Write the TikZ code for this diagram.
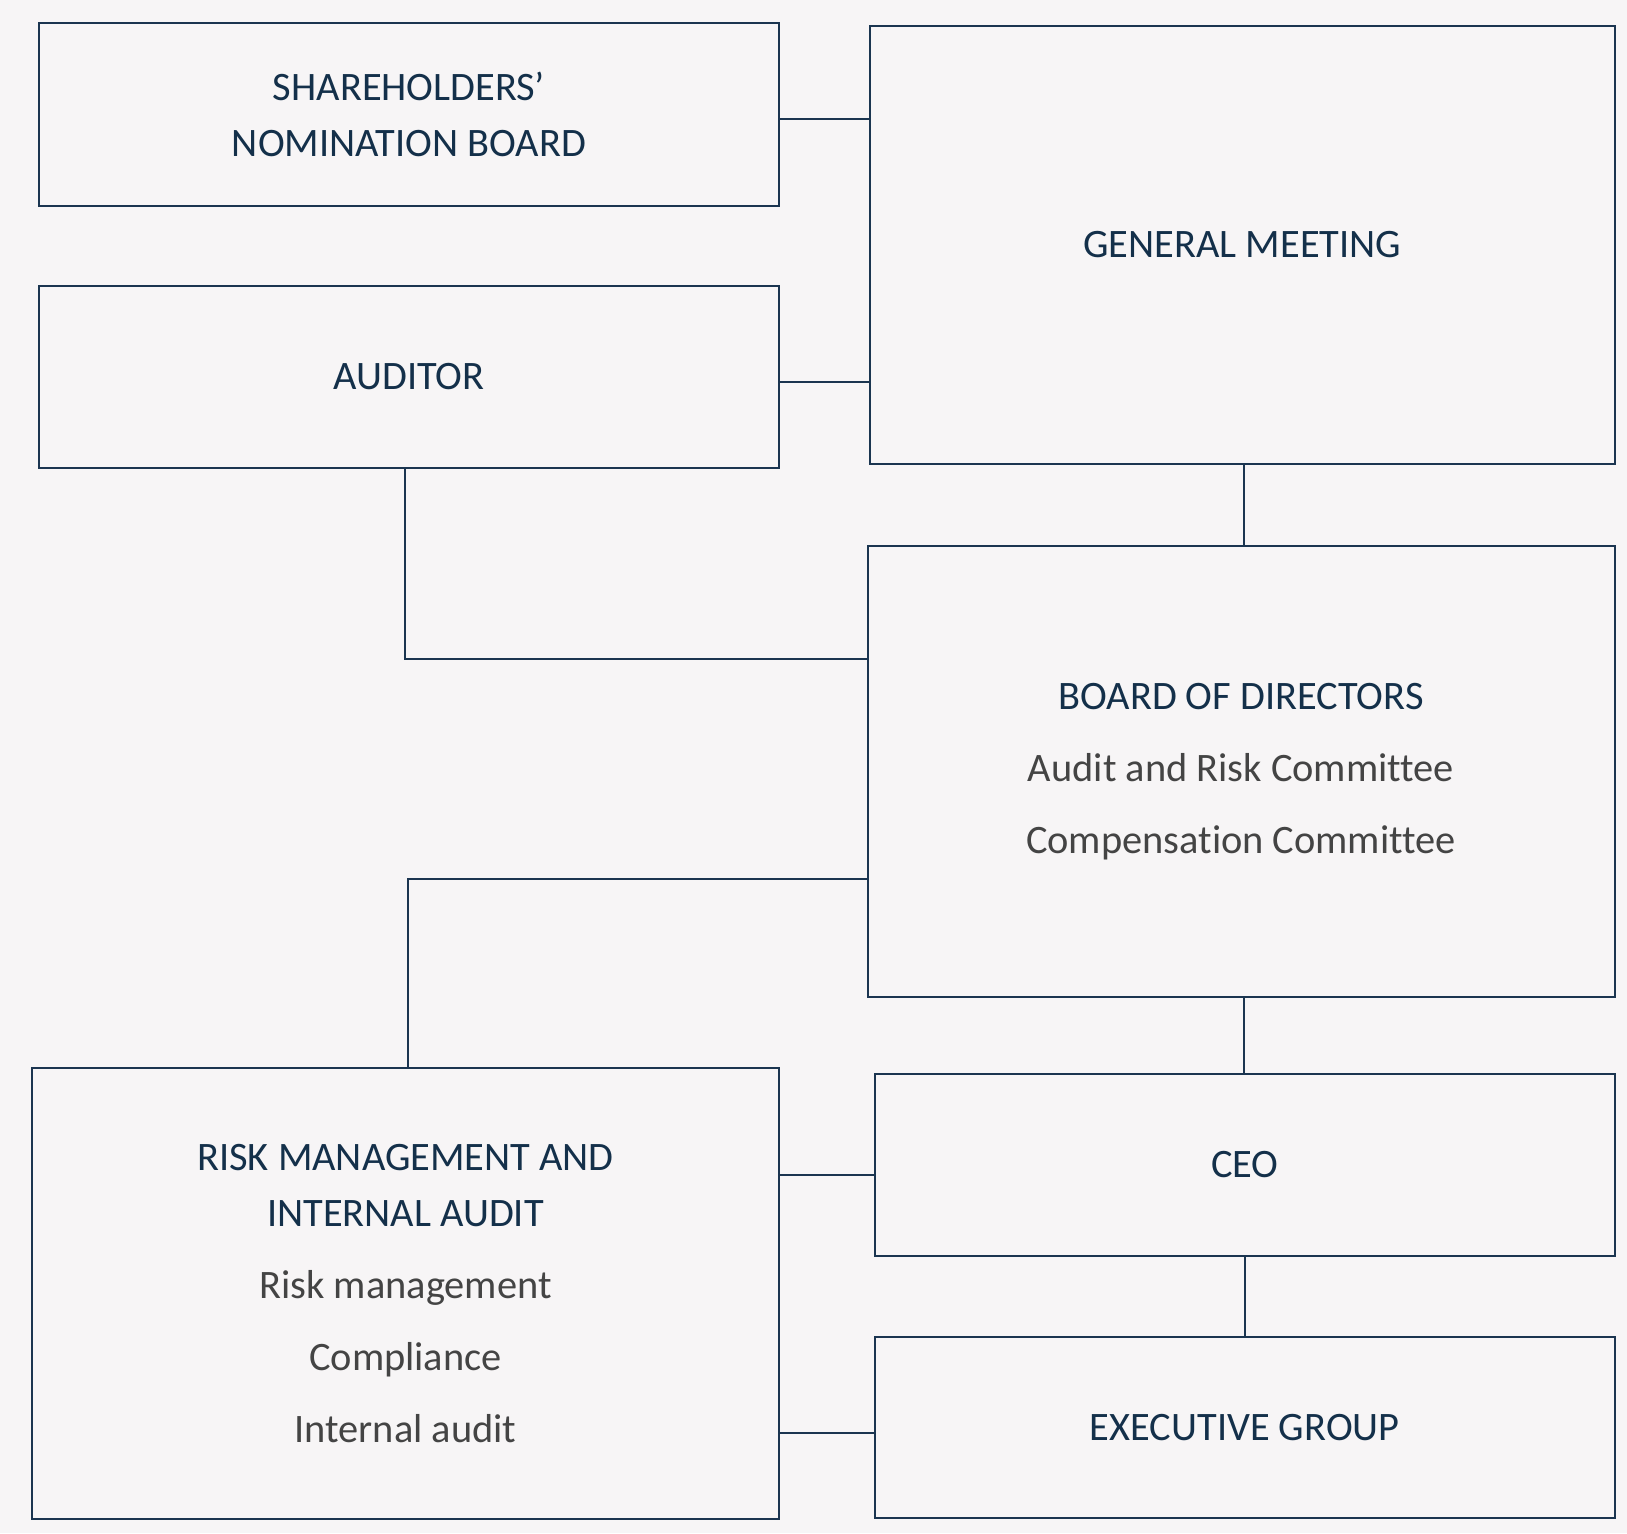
\documentclass[tikz,border=0pt]{standalone}
\usepackage{fontspec}
\setmainfont[Ligatures={NoCommon}]{Carlito}
\usepackage{tikz}
\usepackage{xcolor}
\definecolor{org-navy}{HTML}{1B3550}
\definecolor{org-ink}{HTML}{14304A}
\definecolor{org-grey}{HTML}{444444}
\definecolor{org-paper}{HTML}{F7F5F6}
\tikzset{
    org-box/.style = {draw=org-navy, line width=1pt, rectangle, align=center, inner sep=0pt, text=org-ink, font=\fontsize{20.2}{28}\selectfont},
    org-line/.style = {draw=org-navy, line width=0.8pt},
}
\newcommand{\orgitem}[1]{\\[8pt]{\color{org-grey}#1}}

\begin{document}
\begin{tikzpicture}[x=0.5pt, y=-0.5pt]
\fill[org-paper] (0,0) rectangle (1627,1533);
\useasboundingbox (0,0) rectangle (1627,1533);

\node [org-box, minimum width=370pt, minimum height=91.5pt] (share) at (409,114.5) {SHAREHOLDERS'\\NOMINATION BOARD};
\node [org-box, minimum width=370pt, minimum height=91.25pt] (auditor) at (409,376.75) {AUDITOR};
\node [org-box, minimum width=372.25pt, minimum height=219pt] (meeting) at (1242.25,245) {GENERAL MEETING};
\node [org-box, minimum width=373.5pt, minimum height=225.5pt] (board) at (1241,771.5) {BOARD OF DIRECTORS\orgitem{Audit and Risk Committee}\orgitem{Compensation Committee}};
\node [org-box, minimum width=373.5pt, minimum height=225.5pt] (risk) at (405.5,1293.5) {RISK MANAGEMENT AND\\INTERNAL AUDIT\orgitem{Risk management}\orgitem{Compliance}\orgitem{Internal audit}};
\node [org-box, minimum width=369.75pt, minimum height=90.75pt] (ceo) at (1244.75,1164.75) {CEO};
\node [org-box, minimum width=369.75pt, minimum height=90.75pt] (exec) at (1244.75,1427.25) {EXECUTIVE GROUP};

% connectors
\coordinate (share-link) at ([yshift=-2.25pt]share.east);
\coordinate (auditor-link) at ([yshift=-2.75pt]auditor.east);
\coordinate (ceo-link) at ([yshift=-5pt]ceo.west);
\coordinate (exec-link) at ([yshift=-3pt]exec.west);
\draw [org-line] (share-link) -- (share-link -| meeting.west);
\draw [org-line] (auditor-link) -- (auditor-link -| meeting.west);
\draw [org-line] ([xshift=1pt]meeting.south) -- ([xshift=1pt]meeting.south |- board.north);
\draw [org-line] ([xshift=-2pt]auditor.south) |- ([yshift=56.25pt]board.west);
\draw [org-line] ([yshift=-53.75pt]board.west) -| ([xshift=1.2pt]risk.north);
\draw [org-line] ([xshift=1.5pt]board.south) -- ([xshift=1.5pt]board.south |- ceo.north);
\draw [org-line] (ceo.south) -- (exec.north);
\draw [org-line] (ceo-link) -- (ceo-link -| risk.east);
\draw [org-line] (exec-link) -- (exec-link -| risk.east);
\end{tikzpicture}
\end{document}
